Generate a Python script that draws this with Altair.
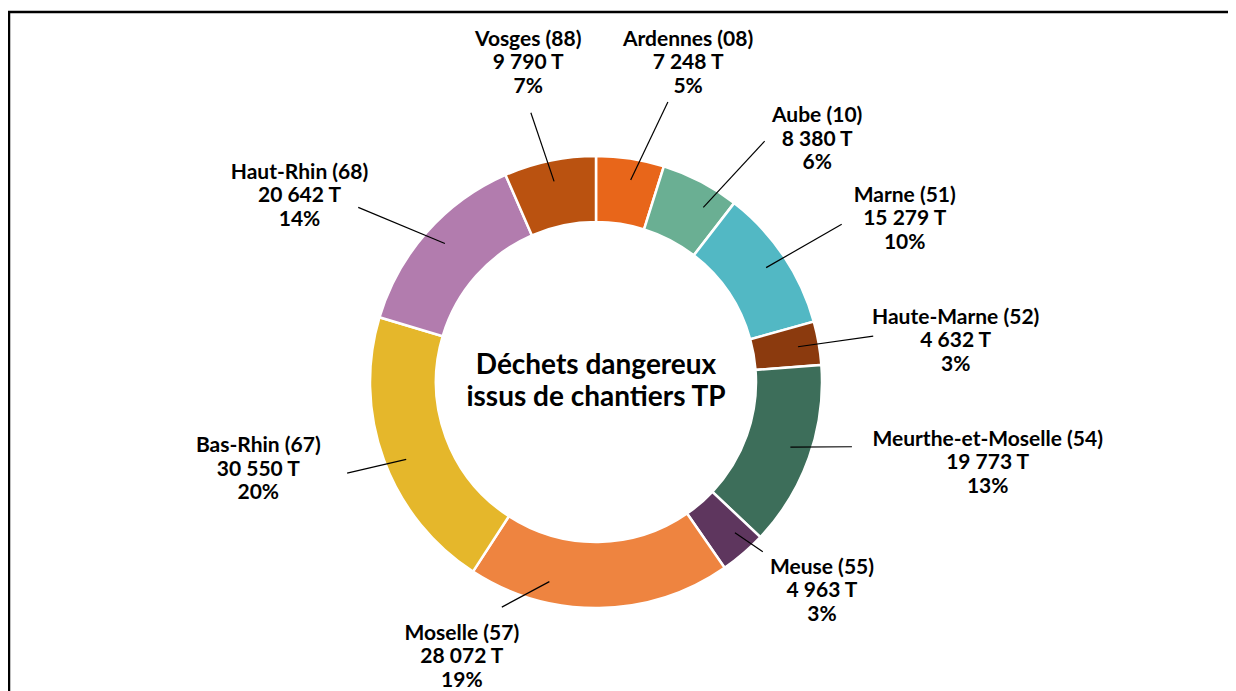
import math
import altair as alt
import pandas as pd

# ---- data ----
departements = ["Ardennes (08)", "Aube (10)", "Marne (51)", "Haute-Marne (52)",
                "Meurthe-et-Moselle (54)", "Meuse (55)", "Moselle (57)",
                "Bas-Rhin (67)", "Haut-Rhin (68)", "Vosges (88)"]
tonnes = [7248, 8380, 15279, 4632, 19773, 4963, 28072, 30550, 20642, 9790]
tonnes_txt = ["7 248 T", "8 380 T", "15 279 T", "4 632 T", "19 773 T",
              "4 963 T", "28 072 T", "30 550 T", "20 642 T", "9 790 T"]
colors = ["#E8661A", "#6AAF93", "#52B8C4", "#8B3A0E", "#3D6E5A",
          "#5E365E", "#EE8440", "#E5B72B", "#B27CAE", "#BA5210"]
center_title = ["Déchets dangereux", "issus de chantiers TP"]

# ---- layout (label placement around the ring) ----
CX, CY = 588, 374          # donut centre in chart coordinates
R_OUT, R_IN = 226, 160
label_angle = [16.1, 42.4, 62.2, 83.5, 101.7, 132.8, 206.0, 255.4, 302.1, 348.0]
label_radius = [332, 328, 349, 362, 400, 308, 306, 349, 350, 326]
leader_out_angle = [14.4, 35.0, 57.3, 80.6, 104.2, 135.5, 202.7, 249.9, 306.3, 346.4]
leader_out_radius = [289, 294, 292, 281, 264, 238, 244, 265, 295, 277]
leader_nudge = [1, 4, 0, 0, -1, -2, 14, -2, 1, 0]
LEADER_IN_R = 205
LABEL_LH = 23.5
CENTER_LH = 32

total = sum(tonnes)
rows = []
cum = 0
for i, (d, t) in enumerate(zip(departements, tonnes)):
    mid = (cum + t / 2) / total * 360 + leader_nudge[i]
    cum += t
    pct = round(t / total * 100)
    la = math.radians(label_angle[i])
    lo = math.radians(leader_out_angle[i])
    mi = math.radians(mid)
    rows.append(dict(
        idx=i, dep=d, val=t,
        label=f"{d}\n{tonnes_txt[i]}\n{pct}%",
        lx=CX + label_radius[i] * math.sin(la),
        ly=CY - label_radius[i] * math.cos(la),
        x1=CX + LEADER_IN_R * math.sin(mi),
        y1=CY - LEADER_IN_R * math.cos(mi),
        x2=CX + leader_out_radius[i] * math.sin(lo),
        y2=CY - leader_out_radius[i] * math.cos(lo),
    ))
df = pd.DataFrame(rows)

FONT = "Lato"

base = alt.Chart(df)

arcs = base.mark_arc(radius=R_OUT, radius2=R_IN, stroke="white", strokeWidth=2.5).encode(
    theta=alt.Theta("val:Q", stack=True),
    order=alt.Order("idx:Q"),
    color=alt.Color("dep:N", scale=alt.Scale(domain=departements, range=colors), legend=None),
    x=alt.value(CX),
    y=alt.value(CY),
)

leaders = base.mark_rule(color="black", strokeWidth=1.2).encode(
    x=alt.X("x1:Q", scale=None, axis=None),
    y=alt.Y("y1:Q", scale=None, axis=None),
    x2="x2:Q",
    y2="y2:Q",
)

labels = base.mark_text(font=FONT, fontWeight="bold", fontSize=21, lineBreak="\n",
                        lineHeight=LABEL_LH, dy=-LABEL_LH, align="center",
                        baseline="middle", color="black").encode(
    x=alt.X("lx:Q", scale=None, axis=None),
    y=alt.Y("ly:Q", scale=None, axis=None),
    text="label:N",
)

center = alt.Chart(pd.DataFrame({"t": ["\n".join(center_title)]})).mark_text(
    font=FONT, fontWeight="bold", fontSize=28, lineBreak="\n", lineHeight=CENTER_LH,
    dy=-CENTER_LH / 2, align="center", baseline="middle", color="black").encode(
    x=alt.value(CX), y=alt.value(CY), text="t:N")

frame = alt.Chart(pd.DataFrame({"a": [0]})).mark_rect(
    fill=None, stroke="black", strokeWidth=2.5).encode(
    x=alt.value(1), x2=alt.value(1260), y=alt.value(4), y2=alt.value(720))

chart = alt.layer(frame, arcs, leaders, labels, center).properties(
    width=1220, height=683,
    autosize=alt.AutoSizeParams(type="none"),
    padding=0,
).configure_view(stroke=None)

chart.save("out.html", embed_options={"renderer": "svg", "actions": False})
